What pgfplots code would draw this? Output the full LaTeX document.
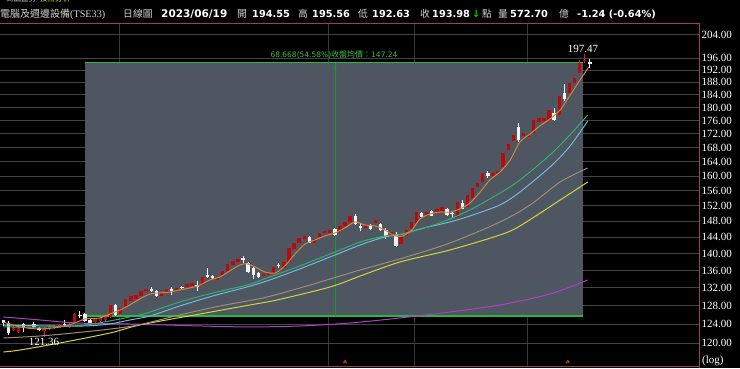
\documentclass[border=0pt]{standalone}
\usepackage{pgfplots}
\pgfplotsset{compat=1.18}
\usepackage{pgfplotstable}
\usepackage{fontspec}
\setmainfont{Liberation Serif}
\newfontfamily\dvs{DejaVu Sans}
\newfontfamily\cjk{Noto Sans CJK TC}
\definecolor{rectgray}{HTML}{4E5661}
\definecolor{gridcol}{HTML}{444444}
\definecolor{vgridcol}{HTML}{363636}
\definecolor{framecol}{HTML}{A03C64}
\definecolor{candred}{HTML}{E02020}
\definecolor{candredbody}{HTML}{B80A0A}
\definecolor{candwhite}{HTML}{F2F2F2}
\definecolor{maorange}{HTML}{D8843C}
\definecolor{magreen}{HTML}{30B070}
\definecolor{mablue}{HTML}{70B8E0}
\definecolor{mabrown}{HTML}{9C8C78}
\definecolor{mayellow}{HTML}{D4D43A}
\definecolor{mapurple}{HTML}{B03CC8}
\definecolor{txtgreen}{HTML}{38C038}
\definecolor{linegreen}{HTML}{28B840}
\definecolor{hdrgray}{HTML}{D0D0D0}

\pgfplotstableread{
i o h l c
0 124.8 125.0 123.6 124.2
1 124.3 124.6 121.8 122.1
2 122.8 123.8 122.5 123.5
3 122.4 123.5 122.1 123.3
4 124.0 124.3 122.3 123.4
5 123.3 123.8 123.0 123.6
6 124.0 124.4 123.3 123.5
7 123.2 123.5 122.5 122.8
8 122.5 123.5 121.36 123.3
9 123.0 123.8 122.8 123.6
10 123.2 123.8 123.0 123.6
11 123.3 124.0 123.1 123.8
12 124.0 124.9 123.6 123.8
13 123.5 124.3 123.3 124.1
14 124.3 126.4 124.0 126.2
15 126.0 126.8 125.3 125.8
16 126.1 126.4 124.4 124.6
17 124.9 125.1 124.0 124.3
18 124.4 125.4 124.2 125.2
19 124.6 125.6 124.4 125.4
20 124.8 125.8 124.6 125.6
21 125.6 128.3 125.4 128.1
22 128.1 128.4 125.8 126.0
23 126.3 127.8 126.0 127.6
24 127.8 129.6 127.5 129.4
25 129.1 130.4 128.9 130.2
26 129.4 130.6 129.2 130.4
27 130.2 131.5 130.0 131.3
28 131.3 132.0 131.1 131.8
29 131.8 132.1 131.1 131.3
30 131.3 131.5 130.0 130.2
31 130.2 131.1 130.0 130.9
32 131.0 132.0 130.8 131.8
33 131.7 132.2 130.4 131.3
34 131.4 132.2 131.2 132.0
35 132.3 132.5 131.7 131.9
36 132.2 133.0 132.0 132.8
37 132.4 133.2 132.2 133.0
38 132.6 133.5 131.4 132.3
39 132.6 134.8 132.4 134.6
40 134.9 136.5 134.3 134.6
41 134.8 135.0 134.0 134.3
42 133.8 134.7 133.6 134.5
43 134.9 136.1 134.7 135.9
44 136.0 137.7 135.8 137.5
45 137.4 138.5 137.2 138.3
46 138.0 139.0 137.8 138.8
47 138.9 139.4 137.8 138.4
48 137.7 138.0 135.5 135.7
49 136.6 136.8 134.0 134.9
50 135.4 135.6 134.2 134.4
51 134.8 135.4 134.6 135.2
52 134.9 135.7 134.7 135.5
53 135.2 137.0 135.0 136.8
54 137.3 137.8 136.5 137.0
55 136.6 138.3 136.4 138.1
56 138.1 141.5 137.9 141.3
57 141.1 142.7 140.9 142.5
58 142.7 144.0 142.5 143.8
59 143.5 144.5 143.3 144.3
60 144.1 144.3 142.5 142.7
61 142.7 143.7 142.5 143.5
62 144.0 145.2 143.8 145.0
63 145.0 145.8 144.8 145.6
64 145.1 145.9 144.9 145.7
65 146.0 146.3 144.4 144.6
66 145.6 147.0 145.4 146.8
67 146.7 148.1 146.5 147.9
68 147.9 149.6 147.7 149.4
69 149.4 149.9 147.0 147.4
70 146.8 147.6 145.5 146.4
71 146.3 147.3 146.1 147.1
72 147.0 147.3 145.9 146.1
73 147.5 148.9 147.3 148.3
74 147.3 147.6 145.6 145.8
75 145.8 146.2 143.6 144.0
76 144.3 145.4 144.1 145.2
77 144.6 145.3 141.5 141.9
78 142.4 144.2 142.2 144.0
79 144.2 146.0 144.0 145.8
80 146.1 148.1 145.9 147.9
81 147.5 150.7 147.3 150.5
82 150.2 150.5 149.0 149.2
83 149.5 150.6 149.3 150.4
84 150.7 150.9 149.3 149.5
85 150.1 151.3 149.9 151.1
86 150.5 151.8 150.3 151.6
87 151.1 151.4 149.5 149.7
88 150.1 150.6 148.9 149.8
89 149.2 153.4 148.6 153.1
90 152.8 153.6 151.1 151.3
91 151.8 155.0 151.6 154.8
92 154.0 156.9 153.8 156.7
93 157.1 158.2 156.9 158.0
94 158.5 161.0 158.3 160.8
95 160.8 161.4 159.5 159.9
96 160.0 160.9 159.8 160.7
97 160.8 161.7 160.6 161.5
98 162.6 166.6 162.4 166.4
99 167.3 169.2 167.1 169.0
100 169.8 171.9 169.6 171.7
101 174.2 175.2 169.7 170.2
102 171.4 172.4 171.2 172.2
103 171.0 172.0 170.6 171.6
104 172.4 176.4 172.2 176.2
105 175.7 177.0 175.5 176.8
106 176.0 177.0 175.5 176.8
107 176.2 179.4 176.0 179.2
108 178.2 179.8 176.0 176.2
109 177.7 183.8 177.5 183.6
110 184.6 187.5 182.0 182.6
111 184.5 187.9 184.3 187.7
112 187.9 189.6 187.7 189.4
113 191.1 195.2 190.6 194.48
114 194.9 197.47 194.2 195.22
115 194.55 195.56 192.63 193.98
}\ohlc

\begin{document}
\begin{tikzpicture}
\fill[black] (0pt,0pt) rectangle (740pt,368pt);

% header (top line partly cut off in the reference)
\node[anchor=west,inner sep=0,text=hdrgray,font=\cjk\fontsize{7.5}{7.5}\selectfont] at (6pt,369pt) {商品盤勢};
\node[anchor=west,inner sep=0,text=yellow!85!orange,font=\cjk\fontsize{7.5}{7.5}\selectfont] at (40pt,369pt) {技術分析};

\node[anchor=west,inner sep=0,text=hdrgray,font=\fontsize{10.2}{10.2}\selectfont] at (0pt,354pt) {{\cjk\fontsize{10}{10}\selectfont 電腦及週邊設備}(TSE33)};
\node[anchor=west,inner sep=0,text=hdrgray,font=\cjk\fontsize{9.8}{9.8}\selectfont] at (123pt,354pt) {日線圖};
\node[anchor=west,inner sep=0,text=white,font=\dvs\bfseries\fontsize{10.5}{10.5}\selectfont] at (161pt,354pt) {2023/06/19};
\node[anchor=west,inner sep=0,text=hdrgray,font=\cjk\fontsize{9.8}{9.8}\selectfont] at (237pt,354pt) {開};
\node[anchor=west,inner sep=0,text=white,font=\dvs\bfseries\fontsize{9.8}{9.8}\selectfont] at (252pt,354pt) {194.55};
\node[anchor=west,inner sep=0,text=hdrgray,font=\cjk\fontsize{9.8}{9.8}\selectfont] at (298pt,354pt) {高};
\node[anchor=west,inner sep=0,text=white,font=\dvs\bfseries\fontsize{9.8}{9.8}\selectfont] at (312pt,354pt) {195.56};
\node[anchor=west,inner sep=0,text=hdrgray,font=\cjk\fontsize{9.8}{9.8}\selectfont] at (358pt,354pt) {低};
\node[anchor=west,inner sep=0,text=white,font=\dvs\bfseries\fontsize{9.8}{9.8}\selectfont] at (372pt,354pt) {192.63};
\node[anchor=west,inner sep=0,text=hdrgray,font=\cjk\fontsize{9.8}{9.8}\selectfont] at (420pt,354pt) {收};
\node[anchor=west,inner sep=0,text=white,font=\dvs\bfseries\fontsize{9.8}{9.8}\selectfont] at (432pt,354pt) {193.98};
\node[anchor=west,inner sep=0,text=green!80!black,font=\dvs\bfseries\fontsize{10}{10}\selectfont] at (472pt,354pt) {↓};
\node[anchor=west,inner sep=0,text=hdrgray,font=\cjk\fontsize{9.8}{9.8}\selectfont] at (482pt,354pt) {點};
\node[anchor=west,inner sep=0,text=hdrgray,font=\cjk\fontsize{9.8}{9.8}\selectfont] at (498pt,354pt) {量};
\node[anchor=west,inner sep=0,text=white,font=\dvs\bfseries\fontsize{9.8}{9.8}\selectfont] at (510pt,354pt) {572.70};
\node[anchor=west,inner sep=0,text=hdrgray,font=\cjk\fontsize{9.8}{9.8}\selectfont] at (559pt,354pt) {億};
\node[anchor=west,inner sep=0,text=white,font=\dvs\bfseries\fontsize{9.8}{9.8}\selectfont] at (577pt,354pt) {-1.24 (-0.64\%)};

\begin{axis}[
  at={(0pt,2pt)}, anchor=south west,
  scale only axis, width=699pt, height=343pt,
  xmin=-0.647, xmax=136.41,
  ymode=log, ymin=115.41, ymax=208.17,
  axis line style={draw=none},
  xtick={22.88,63.86,80.7,102.7}, xticklabels={,,,},
  xmajorgrids, major x grid style={vgridcol, line width=1pt},
  ytick={120,124,128,132,136,140,144,148,152,156,160,164,168,172,176,180,184,188,192,196,204},
  yticklabels={120.00,124.00,128.00,132.00,136.00,140.00,144.00,148.00,152.00,156.00,160.00,164.00,168.00,172.00,176.00,180.00,184.00,188.00,192.00,196.00,204.00},
  ymajorgrids, major y grid style={gridcol, line width=1pt},
  yticklabel pos=right,
  yticklabel style={font=\fontsize{11}{11}\selectfont, text=white, anchor=west, inner sep=2.5pt},
  tick style={draw=none},
  major tick length=0pt,
]
% highlighted range box
\addplot[draw=none, fill=rectgray, forget plot] coordinates {(16.02,125.81) (113.67,125.81) (113.67,194.478) (16.02,194.478)} -- cycle;
\addplot[linegreen, line width=0.8pt, forget plot] coordinates {(16.02,194.478) (113.67,194.478)};
\addplot[linegreen, line width=1.6pt, forget plot] coordinates {(16.02,125.81) (113.67,125.81)};
\addplot[linegreen!80!black, line width=0.6pt, forget plot] coordinates {(65.04,125.81) (65.04,194.478)};
\addplot[only marks, mark=triangle, mark size=1.6pt, mark options={linegreen!80!black, line width=0.5pt}, forget plot] coordinates {(65.04,192.6)};

% candlesticks
\pgfplotsinvokeforeach{0,...,115}{
  \pgfplotstablegetelem{#1}{o}\of\ohlc \edef\cO{\pgfplotsretval}
  \pgfplotstablegetelem{#1}{h}\of\ohlc \edef\cH{\pgfplotsretval}
  \pgfplotstablegetelem{#1}{l}\of\ohlc \edef\cL{\pgfplotsretval}
  \pgfplotstablegetelem{#1}{c}\of\ohlc \edef\cC{\pgfplotsretval}
  \pgfmathtruncatemacro{\isup}{\cC>=\cO}
  \ifnum\isup=1 \def\wcol{candred}\def\bcol{candredbody}\else \def\wcol{candwhite}\def\bcol{candwhite}\fi
  \edef\doit{\noexpand\addplot[\wcol, line width=1pt, forget plot] coordinates {(#1,\cL) (#1,\cH)};
    \noexpand\addplot[\bcol, line width=3.4pt, line cap=butt, forget plot] coordinates {(#1,\cO) (#1,\cC)};}
  \doit
}

% moving averages
\addplot[mapurple, line width=1pt, smooth] coordinates {(0,125.56) (7.2,124.91) (14.45,124.26) (24.8,124.05) (38.6,123.63) (48.4,123.42) (58.2,123.63) (68.0,124.26) (77.8,125.35) (87.6,126.64) (97.4,128.18) (107.2,130.62) (114.6,133.81)};
\addplot[mayellow, line width=1pt, smooth] coordinates {(0,118.21) (3.3,118.63) (11.1,120.06) (20.9,122.14) (26.8,123.84) (38.6,126.21) (48.4,128.18) (53.7,129.29) (64.1,132.21) (70.0,134.73) (77.8,138.02) (87.6,140.90) (97.4,144.58) (101.3,146.84) (109.2,153.55) (114.6,158.38)};
\addplot[mabrown, line width=1pt, smooth] coordinates {(0,121.10) (7.2,121.52) (15.6,122.35) (25.4,123.63) (34.6,125.99) (42.5,127.96) (50.9,129.73) (58.2,131.98) (64.1,134.04) (70.0,136.13) (78.4,138.98) (87.6,142.60) (97.4,147.85) (103.3,152.24) (109.2,158.38) (114.6,162.24)};
\addplot[mablue, line width=1pt, smooth] coordinates {(0,123.84) (9.2,123.63) (16.0,123.63) (20.9,124.05) (24.8,124.91) (28.8,125.78) (34.6,127.96) (41.1,130.18) (47.8,132.21) (51.7,133.58) (57.6,136.13) (64.1,139.22) (70.0,142.12) (74.8,144.08) (78.4,144.83) (81.7,146.08) (87.6,147.85) (91.5,149.39) (97.4,152.24) (101.3,155.67) (107.2,162.52) (111.1,168.42) (114.6,175.91)};
\addplot[magreen, line width=1pt, smooth] coordinates {(0,123.42) (9.2,123.42) (16.0,123.84) (20.9,124.70) (24.8,125.56) (28.2,126.43) (34.6,128.84) (41.1,130.85) (47.8,132.66) (51.7,134.27) (57.6,136.84) (64.1,139.93) (70.0,142.85) (74.8,144.33) (78.4,144.83) (85.6,147.6) (91.5,150.93) (97.4,155.41) (101.3,158.93) (107.2,165.92) (111.1,171.72) (114.6,177.73)};
\addplot[maorange, line width=1pt, smooth] coordinates {(0,124.48) (3.27,123.42) (7.2,122.99) (11.1,123.42) (14.06,124.26) (16.0,125.13) (18.96,125.35) (20.9,126.21) (22.9,127.08) (24.8,128.18) (26.8,129.51) (28.8,130.62) (30.7,130.85) (32.7,131.07) (34.6,131.53) (36.6,131.98) (38.6,132.66) (40.5,133.81) (42.5,134.50) (44.4,135.90) (46.4,137.31) (47.8,137.55) (49.4,136.84) (51.3,135.66) (53.3,135.43) (55.2,137.07) (57.2,139.93) (59.2,142.36) (61.1,143.34) (63.1,144.33) (65.0,145.08) (67.0,146.33) (68.96,147.85) (70.9,147.09) (72.9,146.84) (74.8,145.83) (76.8,144.33) (78.4,144.33) (80.1,145.83) (81.7,148.6) (83.7,149.9) (85.6,150.4) (87.6,150.4) (89.55,151.2) (91.5,152.76) (93.5,155.67) (95.4,158.93) (97.4,161.13) (99.4,164.49) (101.3,169.66) (103.3,172.0) (105.2,174.4) (107.2,176.52) (109.2,179.27) (111.1,183.8) (113.1,188.76) (114.8,193.03)};

% signal marks at bottom
\addplot[only marks, mark=triangle, mark size=1.8pt, mark options={orange!80!red, line width=0.5pt}] coordinates {(67.0,116.2) (110.7,116.2)};

% labels
\node[text=white, font=\fontsize{11}{11}\selectfont, inner sep=0] at (axis cs:113.67,199.07) {197.47};
\node[text=white, font=\fontsize{11}{11}\selectfont, inner sep=0] at (axis cs:8.0,120.27) {121.36};
\node[text=txtgreen, font=\dvs\fontsize{7.5}{7.5}\selectfont, inner sep=0] at (axis cs:64.84,197.2) {68.668(54.58\%){\cjk\fontsize{8}{8}\selectfont 收盤均價：}147.24};
\end{axis}

% frame
\draw[framecol, line width=1pt] (0pt,345pt) -- (699pt,345pt);
\draw[framecol, line width=1pt] (699pt,345pt) -- (699pt,0pt);
\draw[framecol, line width=1pt] (0pt,2pt) -- (699pt,2pt);
\node[anchor=west, inner sep=0, text=white, font=\fontsize{11}{11}\selectfont] at (702pt,7pt) {(log)};

\pgfresetboundingbox
\useasboundingbox (0pt,0pt) rectangle (740pt,368pt);
\end{tikzpicture}
\end{document}
